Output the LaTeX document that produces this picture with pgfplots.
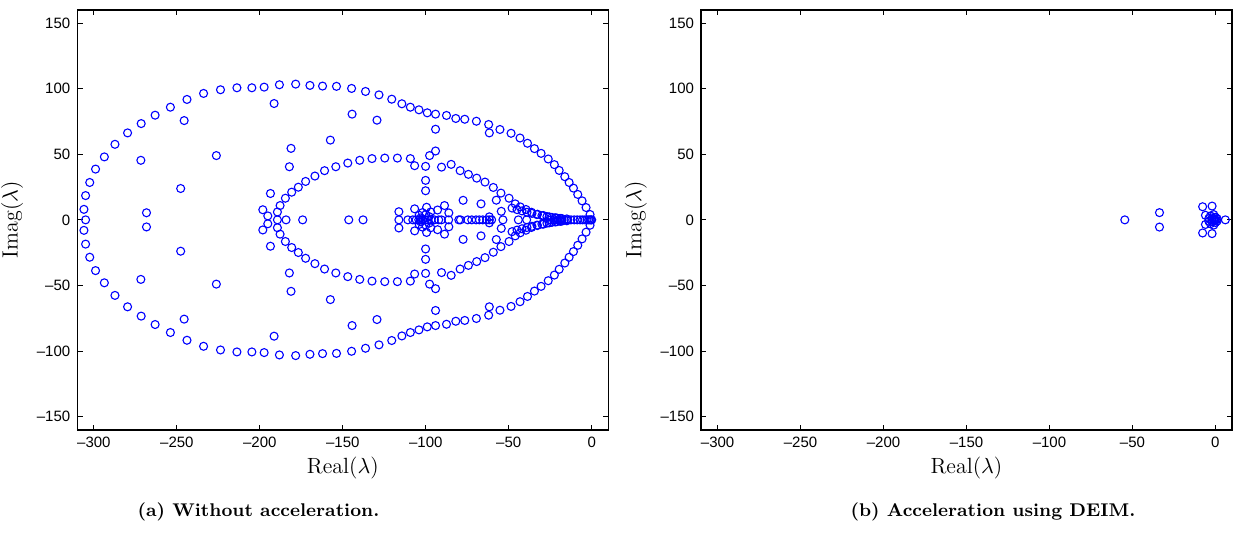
\documentclass[border=0pt]{standalone}
\usepackage{fontspec}
\usepackage{pgfplots}
\pgfplotsset{compat=1.18}
\newfontfamily\helv{Liberation Sans}

\pgfplotsset{
  mat/.style={
    scale only axis, width=265.5pt, height=209.85pt,
    xmin=-310, xmax=10, ymin=-160, ymax=160,
    xtick={-300,-250,...,0}, xticklabels={–300,–250,–200,–150,–100,–50,0},
    ytick={-150,-100,...,150}, yticklabels={–150,–100,–50,0,50,100,150},
    tick align=inside, major tick length=2.6pt,
    tick style={line width=0.4pt, black},
    axis line style={line width=0.8pt},
    tick label style={font=\helv\fontsize{7.5}{9}\selectfont},
    label style={font=\fontsize{11}{13}\selectfont},
    xlabel={Real($\lambda$)}, ylabel={Imag($\lambda$)},
    xlabel style={yshift=2pt},
  },
  eig/.style={only marks, mark=o, mark size=2pt, color=blue,
    mark options={line width=0.55pt}},
}

\begin{document}
\begin{tikzpicture}
\useasboundingbox (0,0) rectangle (616.5pt,266pt);

% (a) without acceleration
\begin{axis}[mat, at={(38.65pt,51.15pt)}, anchor=south west]
% outer curve, upper and lower half
\addplot[eig] coordinates {
(-306,8) (-305,18.5) (-302.5,28.5) (-299,38.7) (-293.7,48) (-287.3,57.6) (-279.7,66.3)
(-271.5,73.4) (-263.1,79.8) (-253.9,85.9) (-243.9,91.8) (-233.9,96.4) (-223.7,99.2)
(-213.8,100.7) (-204.8,100.7) (-197.4,101.2) (-188.2,103) (-178.4,103.5) (-169.8,102.5)
(-162.2,102) (-153.8,101.8) (-144.7,100.2) (-136.3,97.9) (-128.2,95.3) (-120.5,92)
(-114.4,88.5) (-109.3,85.9) (-104.1,83.9) (-99.1,81.6) (-94.1,80.6) (-87.5,79.6)
(-81.9,77.3) (-76.5,76.7) (-69.5,75.2) (-62.1,72.7) (-55.3,68.9) (-48.6,66) (-43.2,62.4)
(-38.7,58.4) (-34.5,54.3) (-30.5,50.7) (-26.2,46.4) (-22.5,42.1) (-19.6,37.7) (-16.2,32.9)
(-13.6,28.5) (-11,24.2) (-8.4,19.4) (-5.8,14.5) (-3.4,9.4) (-1,4.1)
};
\addplot[eig] coordinates {
(-306,-8) (-305,-18.5) (-302.5,-28.5) (-299,-38.7) (-293.7,-48) (-287.3,-57.6) (-279.7,-66.3)
(-271.5,-73.4) (-263.1,-79.8) (-253.9,-85.9) (-243.9,-91.8) (-233.9,-96.4) (-223.7,-99.2)
(-213.8,-100.7) (-204.8,-100.7) (-197.4,-101.2) (-188.2,-103) (-178.4,-103.5) (-169.8,-102.5)
(-162.2,-102) (-153.8,-101.8) (-144.7,-100.2) (-136.3,-97.9) (-128.2,-95.3) (-120.5,-92)
(-114.4,-88.5) (-109.3,-85.9) (-104.1,-83.9) (-99.1,-81.6) (-94.1,-80.6) (-87.5,-79.6)
(-81.9,-77.3) (-76.5,-76.7) (-69.5,-75.2) (-62.1,-72.7) (-55.3,-68.9) (-48.6,-66) (-43.2,-62.4)
(-38.7,-58.4) (-34.5,-54.3) (-30.5,-50.7) (-26.2,-46.4) (-22.5,-42.1) (-19.6,-37.7) (-16.2,-32.9)
(-13.6,-28.5) (-11,-24.2) (-8.4,-19.4) (-5.8,-14.5) (-3.4,-9.4) (-1,-4.1)
};
% scattered pairs between the curves
\addplot[eig] coordinates {
(-191.4,88.7) (-245.6,75.7) (-271.7,45.4) (-226.2,49) (-247.7,23.9) (-268.3,5.4)
(-181.2,54.5) (-182.2,40.5) (-157.5,60.8) (-144.4,80.6) (-129.4,76) (-94.1,69.1) (-61.7,66.3)
(-191.4,-88.7) (-245.6,-75.7) (-271.7,-45.4) (-226.2,-49) (-247.7,-23.9) (-268.3,-5.4)
(-181.2,-54.5) (-182.2,-40.5) (-157.5,-60.8) (-144.4,-80.6) (-129.4,-76) (-94.1,-69.1) (-61.7,-66.3)
};
% inner curve
\addplot[eig] coordinates {
(-198.2,7.7) (-195.2,3) (-193.6,20.1) (-189.4,6) (-187.8,10.9) (-184.6,16.5) (-180.8,21.1)
(-176.8,24.9) (-172.4,29.3) (-166.8,33.4) (-161,37.5) (-154.2,40.5) (-147,43.3) (-139.8,45.4)
(-132.4,46.7) (-124.7,47.1) (-117.1,47.1) (-109.3,46.7) (-106.7,41.3) (-100.1,40.8) (-97.7,49)
(-94.1,52.5) (-90.5,40.2) (-84.7,42.3) (-79.3,37.5) (-74.3,34.7) (-69.3,31.8) (-64.3,28.8)
(-59.3,24.7) (-54.7,20.4) (-49.8,16.5) (-46.1,12.2) (-43.1,9.9) (-39.6,7.9) (-36.3,5.8)
(-32.7,4.3) (-29.1,3.3) (-25.6,2.3) (-22,1.6) (-19,1.1)
(-198.2,-7.7) (-195.2,-3) (-193.6,-20.1) (-189.4,-6) (-187.8,-10.9) (-184.6,-16.5) (-180.8,-21.1)
(-176.8,-24.9) (-172.4,-29.3) (-166.8,-33.4) (-161,-37.5) (-154.2,-40.5) (-147,-43.3) (-139.8,-45.4)
(-132.4,-46.7) (-124.7,-47.1) (-117.1,-47.1) (-109.3,-46.7) (-106.7,-41.3) (-100.1,-40.8) (-97.7,-49)
(-94.1,-52.5) (-90.5,-40.2) (-84.7,-42.3) (-79.3,-37.5) (-74.3,-34.7) (-69.3,-31.8) (-64.3,-28.8)
(-59.3,-24.7) (-54.7,-20.4) (-49.8,-16.5) (-46.1,-12.2) (-43.1,-9.9) (-39.6,-7.9) (-36.3,-5.8)
(-32.7,-4.3) (-29.1,-3.3) (-25.6,-2.3) (-22,-1.6) (-19,-1.1)
};
% second near-real branch
\addplot[eig] coordinates {
(-48,9) (-45,7.8) (-42,6.8) (-39,5.8) (-36,4.9) (-33,4) (-30,3.2) (-27,2.5) (-24,1.9)
(-21,1.4) (-18,1) (-15,0.7)
(-48,-9) (-45,-7.8) (-42,-6.8) (-39,-5.8) (-36,-4.9) (-33,-4) (-30,-3.2) (-27,-2.5) (-24,-1.9)
(-21,-1.4) (-18,-1) (-15,-0.7)
};
% pairs close to the real axis
\addplot[eig] coordinates {
(-116.2,6.2) (-106.7,8.4) (-99.5,9.6) (-92.9,7.5) (-88.7,10.9) (-86.1,5.3) (-100.1,30.1)
(-100.1,22.2) (-77.5,14.9) (-66.7,12.2) (-57.5,15) (-54.5,6.5) (-104,3.5) (-102,5.5)
(-100,4) (-98,2.5) (-103,1.5) (-97,6) (-61.7,2.3)
(-116.2,-6.2) (-106.7,-8.4) (-99.5,-9.6) (-92.9,-7.5) (-88.7,-10.9) (-86.1,-5.3) (-100.1,-30.1)
(-100.1,-22.2) (-77.5,-14.9) (-66.7,-12.2) (-57.5,-15) (-54.5,-6.5) (-104,-3.5) (-102,-5.5)
(-100,-4) (-98,-2.5) (-103,-1.5) (-97,-6) (-61.7,-2.3)
};
% real eigenvalues
\addplot[eig] coordinates {
(-305,0) (-189.4,0) (-184.2,0) (-174.2,0) (-146.4,0) (-137.8,0) (-116.2,0) (-110.8,0)
(-107.8,0) (-105.8,0) (-104.2,0) (-102.8,0) (-101.8,0) (-100.2,0) (-98.8,0) (-96.8,0)
(-94.8,0) (-92.2,0) (-90.6,0) (-86.2,0) (-80.1,0) (-79.1,0) (-74.7,0) (-72.3,0) (-69.7,0)
(-67.7,0) (-65.7,0) (-63.3,0) (-61.7,0) (-60.3,0) (-53.5,0) (-44.2,0) (-39.2,0)
(-24.6,0) (-22.5,0) (-20.5,0) (-18.5,0) (-16.5,0) (-14.5,0) (-12.5,0) (-10.5,0) (-8.7,0)
(-7,0) (-5.5,0) (-4,0) (-2.8,0) (-1.8,0) (-1,0) (-0.4,0) (0,0)
};
\end{axis}

% (b) acceleration using DEIM
\begin{axis}[mat, at={(350.5pt,51.15pt)}, anchor=south west]
\addplot[eig] coordinates {
(-54.6,0) (-33.7,5.5) (-33.7,-5.5) (-7.7,10) (-2,10.5) (-7.7,-10) (-2,-10.5) (6,0)
(-6,3.5) (-6,-3.5) (-4,1) (-4,-1) (-3,3) (-3,-3) (-1,4) (-1,-4) (0,2) (0,-2)
(-1,0) (-2,0) (0,0) (1,1) (1,-1) (-2,1.5) (-2,-1.5) (-0.5,0.8) (-0.5,-0.8)
};
\end{axis}

\node[font=\fontsize{9.2}{11}\selectfont\bfseries] at (129.25pt,10pt) {(a) Without acceleration.};
\node[font=\fontsize{9.2}{11}\selectfont\bfseries] at (496.5pt,10pt) {(b) Acceleration using DEIM.};
\end{tikzpicture}
\end{document}
